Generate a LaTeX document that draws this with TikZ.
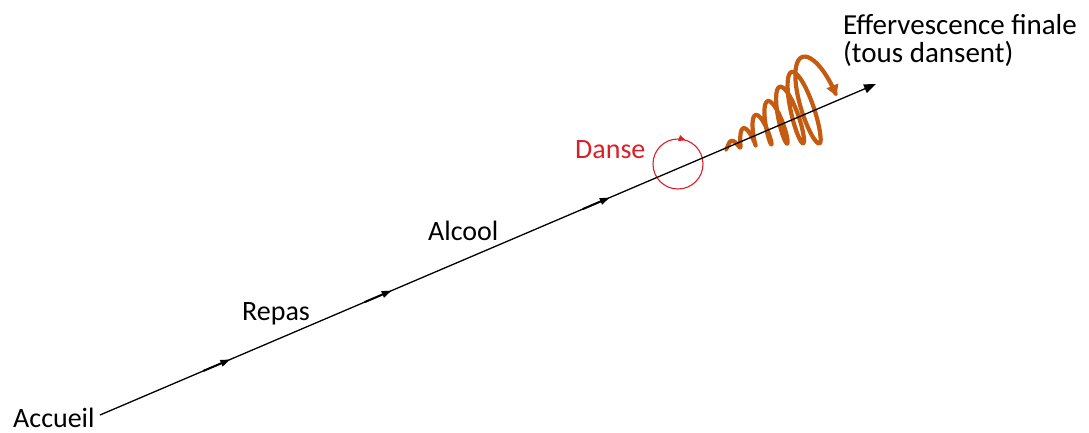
\documentclass[tikz,border=0pt]{standalone}
\usepackage{fontspec}
\setmainfont{Carlito}
\usetikzlibrary{arrows.meta,calc,decorations.markings}
\definecolor{spiralorange}{RGB}{197,90,17}
\definecolor{danred}{RGB}{220,30,38}
\begin{document}
\begin{tikzpicture}[x=1pt,y=1pt,
  lbl/.style={font=\fontsize{28}{30}\selectfont, inner sep=0pt, anchor=base west},
  biglbl/.style={lbl, font=\fontsize{29}{31}\selectfont},
  mainline/.style={line width=1.3pt, black},
  midarrow/.style={line width=2pt, black, -{Triangle[length=10pt,width=6.5pt]}},
  spiralline/.style={line width=4.2pt, spiralorange, line join=round, -{Triangle[length=11pt,width=12pt]}},
  danceloop/.style={danred, line width=1.1pt},
]
\useasboundingbox (0,0) rectangle (1089,432);
\coordinate (A) at (100,17);
\coordinate (E) at (876,348);
\coordinate (S) at ($(A)!0.8015!(E)$);
\coordinate (m1s) at ($(A)!0.133!(E)$);
\coordinate (m1e) at ($(A)!0.168!(E)$);
\coordinate (m2s) at ($(A)!0.341!(E)$);
\coordinate (m2e) at ($(A)!0.376!(E)$);
\coordinate (m3s) at ($(A)!0.622!(E)$);
\coordinate (m3e) at ($(A)!0.657!(E)$);
\coordinate (dc) at (678,268);

\node[lbl] (accueil) at (13,5) {Accueil};
\node[lbl] (repas) at (242,112) {Repas};
\node[lbl] (alcool) at (428,192) {Alcool};
\node[lbl, text=danred] (danse) at (575,274) {Danse};
\node[biglbl] (eff1) at (843,397) {Effervescence finale};
\node[biglbl] (eff2) at (843,369) {(tous dansent)};

% spiral
\begin{scope}[shift={(S)}]
\draw[spiralline] plot[domain=-1.5:5.25, samples=800, variable=\t]
  ({0.920*(25.5+15.2*\t)
    + sin(360*\t)*(0.22*(1+4.97*(\t+1.5)+0.241*(\t+1.5)^2) + 10*max(0,\t-4.4))
    - 0.27*cos(360*\t)*(1+4.97*(\t+1.5)+0.241*(\t+1.5)^2)},
   {0.392*(25.5+15.2*\t) + 1.5*(\t+1.5) + cos(360*\t)*(1+4.97*(\t+1.5)+0.241*(\t+1.5)^2)});
\end{scope}

% dance circle
\draw[danceloop, decoration={markings, mark=at position 0.05 with {\arrow{Triangle[length=7pt,width=6pt]}}}, postaction=decorate]
  ($(dc)+(0,25)$) arc[start angle=90, end angle=-270, radius=25];

% main line
\draw[mainline, -{Triangle[length=12pt,width=9pt]}] (A) -- (E);
\draw[midarrow] (m1s) -- (m1e);
\draw[midarrow] (m2s) -- (m2e);
\draw[midarrow] (m3s) -- (m3e);
\end{tikzpicture}
\end{document}
